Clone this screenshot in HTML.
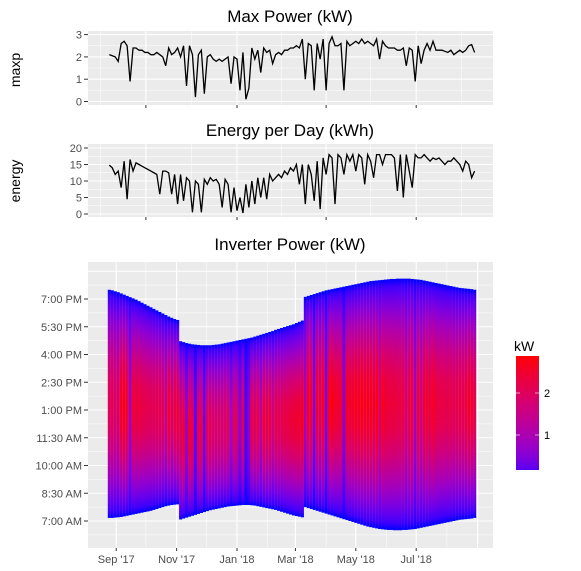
<!DOCTYPE html>
<html><head><meta charset="utf-8">
<style>
html,body{margin:0;padding:0;background:#fff;}
svg{display:block;font-family:"Liberation Sans",sans-serif;}
</style></head>
<body>
<svg id="chart" width="581" height="571" viewBox="0 0 581 571" xmlns="http://www.w3.org/2000/svg">
<defs id="defs"></defs>
<text x="290" y="22" text-anchor="middle" font-size="17" fill="#000">Max Power (kW)</text>
<text x="20" y="70" text-anchor="middle" font-size="14" fill="#000" transform="rotate(-90 20 70)">maxp</text>
<text x="290" y="136" text-anchor="middle" font-size="17" fill="#000">Energy per Day (kWh)</text>
<text x="20" y="181" text-anchor="middle" font-size="14" fill="#000" transform="rotate(-90 20 181)">energy</text>
<text x="290" y="250" text-anchor="middle" font-size="17" fill="#000">Inverter Power (kW)</text>
<g id="p1"></g>
<g id="p2"></g>
<g id="p3"></g>
<g id="legend">
<text x="514" y="351" font-size="14" fill="#000">kW</text>
<rect x="516" y="356" width="23" height="114" fill="url(#legGrad)"/>
<line x1="516" y1="393" x2="520" y2="393" stroke="#fff" stroke-width="0.6"/><line x1="535" y1="393" x2="539" y2="393" stroke="#fff" stroke-width="0.6"/>
<line x1="516" y1="435" x2="520" y2="435" stroke="#fff" stroke-width="0.6"/><line x1="535" y1="435" x2="539" y2="435" stroke="#fff" stroke-width="0.6"/>
<text x="544" y="397" font-size="11" fill="#000">2</text>
<text x="544" y="439" font-size="11" fill="#000">1</text>
</g>
</svg>
<script>
// day offset (from 2018-01-01) of first point, 3-day step
const startDay = -129;
const stepDays = 3;
const maxp = [2.1,2.05,2.0,1.8, 2.6,2.7,2.5,0.9,2.4,2.4,2.3,
 2.3,2.2,2.2,2.1,2.1,2.2,2.1,2.0,1.6,2.4,
 2.1,2.2,2.4,2.0,2.5,0.7,2.5,2.1,0.2,2.1,
 2.3,0.35,2.0,2.1,1.9,1.8,1.9,1.8,1.9,2.0,
 0.8,2.0,1.9,0.5,2.2,0.1,0.6,2.4,1.9,2.3,
 1.3,2.4,2.2,2.3,1.7,2.1,2.2,2.1,2.3,2.3,
 2.4,2.4,2.5,2.4,2.8,1.0,2.6,2.5,0.5,2.6,
 1.9,2.8,0.5,2.6,2.9,2.5,2.5,2.6,0.5,2.7,
 2.5,2.6,2.7,2.6,2.8,2.6,2.7,2.6,2.5,2.8,
 1.9,2.7,2.5,2.4,2.4,2.4,2.3,2.3,2.4,1.6,
 2.4,2.3,0.9,2.5,1.7,2.3,2.6,2.3,2.7,2.3,
 2.3,2.3,2.25,2.2,2.3,2.1,2.2,2.3,2.2,2.3,2.5,2.55,2.2];
const energy = [14.8,14,12,13, 8,16,4.5,16.5,13,15.5,15,
 14.5,14,13.5,13,12.5,12,6,13,13,12.5,
 6,12,3,12,4,11,10,0.5,10,9,
 0.5,10.5,9,11,10,10.5,9,2,10.5,9,
 0.5,8,1,5,0.3,9,2,10,3,11,
 5,11,4.5,12,10,11,12,11,13,12,
 14,13,15,9,15,3,15,12,4,16,
 1.5,17,12,18,17,3,18,17,12,18,
 16,18,13,18,17,9,18,16,11,18,
 18,15,18,18,18,17,7,18,5,18,
 13,8,18,17,17,18,17,16,17,16.5,
 17,16,15,16,16,17,16,15,13,16,15,11,13];
// inverter first / last production time, minutes after midnight
const startMin = [430,430,431,432,433,435,437,439,441,443,445,447,449,451,453,456,459,462,465,468,470,472,473,474,
 425,428,431,434,437,440,443,446,449,452,455,457,459,461,463,465,467,468,469,470,471,472,472,472,
 471,470,468,466,464,462,460,458,456,453,450,447,444,441,438,436,434,432,
 465,462,459,456,453,450,447,444,441,438,435,432,429,426,423,420,417,414,411,408,405,402,400,398,396,394,393,392,391,391,390,390,390,391,
 391,392,393,394,396,398,400,402,404,406,408,410,412,414,416,418,420,422,424,425,426,427,428,430];
const endMin = [1170,1168,1165,1162,1158,1154,1150,1146,1142,1138,1133,1128,1123,1118,1113,1108,1103,1098,1093,1088,1083,1079,1075,1072,
 1003,1000,997,995,993,992,991,990,990,990,990,991,992,993,995,997,999,1001,1003,1005,1007,1009,1011,1013,
 1015,1018,1021,1024,1027,1030,1033,1036,1040,1043,1046,1049,1052,1055,1058,1062,1066,1070,
 1147,1150,1153,1156,1159,1162,1165,1168,1170,1172,1174,1176,1178,1180,1182,1184,1186,1188,1190,1192,1194,1196,1198,1199,1200,1201,1202,1203,1204,1205,1205,1206,1206,1206,
 1206,1206,1205,1204,1203,1202,1200,1198,1196,1194,1192,1190,1188,1186,1184,1182,1180,1178,1176,1175,1174,1173,1172,1170];
const maxpTicks = [0,1,2,3];
const energyTicks = [0,5,10,15,20];
const timeTickMins = [420,510,600,690,780,870,960,1050,1140];
const timeTickLabels = ["7:00 AM","8:30 AM","10:00 AM","11:30 AM","1:00 PM","2:30 PM","4:00 PM","5:30 PM","7:00 PM"];
const monthLabels = ["Sep '17","Nov '17","Jan '18","Mar '18","May '18","Jul '18"];
const monthLabelDays = [-122,-61,0,59,120,181];

const NS="http://www.w3.org/2000/svg";
function mk(tag,attrs,parent){const e=document.createElementNS(NS,tag);for(const k in attrs)e.setAttribute(k,attrs[k]);parent.appendChild(e);return e;}
const xDay = d => 237 + d*0.99;
const xIdx = i => xDay(startDay + i*stepDays);
const yMax = v => 101.5 - v*22.3;
const yEn = v => 214 - v*3.3;
const yT = m => 521 - (m-420)*27.75/90;
function col(v){let t=Math.max(0,Math.min(1,v/2.9));const r=Math.round(255*Math.pow(t,0.37)),b=Math.round(255*Math.pow(1-t,0.86));return `rgb(${r},0,${b})`;}

function panel(g,y0,y1,ticks,yf,majorDays,minorDays){
  const bg=mk('rect',{x:88,y:y0,width:405,height:y1-y0,fill:'#ebebeb'},g);
  
  
  for(let k=0;k<ticks.length-1;k++){const m=(yf(ticks[k])+yf(ticks[k+1]))/2;mk('line',{x1:88,x2:493,y1:m,y2:m,stroke:'#fff','stroke-width':0.5},g);}
  minorDays.forEach(d=>mk('line',{x1:xDay(d),x2:xDay(d),y1:y0,y2:y1,stroke:'#fff','stroke-width':0.5},g));
  majorDays.forEach(d=>mk('line',{x1:xDay(d),x2:xDay(d),y1:y0,y2:y1,stroke:'#fff','stroke-width':1.1},g));
  ticks.forEach((t,k)=>{const y=yf(t);mk('line',{x1:88,x2:493,y1:y,y2:y,stroke:'#fff','stroke-width':1.1},g);
    mk('line',{x1:84,x2:88,y1:y,y2:y,stroke:'#333','stroke-width':1},g);
    const tx=mk('text',{x:82,y:y+4,'text-anchor':'end','font-size':11,fill:'#4d4d4d'},g);tx.textContent=t;
    
    });
  majorDays.forEach(d=>mk('line',{x1:xDay(d),x2:xDay(d),y1:y1,y2:y1+3,stroke:'#333','stroke-width':1},g));
}
const qMaj=[-92,0,90,181], qMin=[-138,-46,45,135,227];
const p1=document.getElementById('p1');
panel(p1,31,105,maxpTicks,yMax,qMaj,qMin);
const l1=mk('polyline',{points:maxp.map((v,i)=>xIdx(i)+','+yMax(v)).join(' '),fill:'none',stroke:'#000','stroke-width':1.3},p1);


const p2=document.getElementById('p2');
panel(p2,144,217,energyTicks,yEn,qMaj,qMin);
const l2=mk('polyline',{points:energy.map((v,i)=>xIdx(i)+','+yEn(v)).join(' '),fill:'none',stroke:'#000','stroke-width':1.3},p2);



// bottom panel
const p3=document.getElementById('p3');
const bg3=mk('rect',{x:88,y:262,width:405,height:286,fill:'#ebebeb'},p3);


for(let m=375;m<=1250;m+=90){mk('line',{x1:88,x2:493,y1:yT(m),y2:yT(m),stroke:'#fff','stroke-width':0.5},p3);}
for(let m=420;m<=1250;m+=90){if(yT(m)>262)mk('line',{x1:88,x2:493,y1:yT(m),y2:yT(m),stroke:'#fff','stroke-width':1.1},p3);}
[-92,-31,31,90,151,212].forEach(d=>mk('line',{x1:xDay(d),x2:xDay(d),y1:262,y2:548,stroke:'#fff','stroke-width':0.5},p3));
[-122,-61,0,59,120,181,243].forEach(d=>mk('line',{x1:xDay(d),x2:xDay(d),y1:262,y2:548,stroke:'#fff','stroke-width':1.1},p3));
timeTickMins.forEach((m,k)=>{const y=yT(m);mk('line',{x1:84,x2:88,y1:y,y2:y,stroke:'#333'},p3);
  const t=mk('text',{x:82,y:y+4,'text-anchor':'end','font-size':11,fill:'#4d4d4d'},p3);t.textContent=timeTickLabels[k];
  
  });
monthLabelDays.forEach((d,k)=>{const x=xDay(d);mk('line',{x1:x,x2:x,y1:548,y2:551,stroke:'#333'},p3);
  const t=mk('text',{x:x,y:563,'text-anchor':'middle','font-size':11,fill:'#4d4d4d'},p3);t.textContent=monthLabels[k];
  
  });
const defs=document.getElementById('defs');
const lg=mk('linearGradient',{id:'legGrad',x1:0,y1:1,x2:0,y2:0},defs);
for(let s=0;s<=10;s++){mk('stop',{offset:s/10,'stop-color':col(0.17+s/10*(2.88-0.17))},lg);}
const fracs=[0,0.03,0.06,0.1,0.15,0.2,0.3,0.4,0.5,0.6,0.7,0.8,0.85,0.9,0.94,0.97,1];
maxp.forEach((pk,i)=>{
  const gid='g'+i;
  const gr=mk('linearGradient',{id:gid,x1:0,y1:1,x2:0,y2:0},defs);
  fracs.forEach(f=>mk('stop',{offset:f,'stop-color':col(pk*Math.pow(Math.sin(Math.PI*f),1.5))},gr));
  const x=xIdx(i), yTop=yT(endMin[i]), yBot=yT(startMin[i]);
  const r=mk('rect',{x:x-1.5,y:yTop,width:3.1,height:yBot-yTop,fill:`url(#${gid})`},p3);
  
  
});
</script>
</body></html>
